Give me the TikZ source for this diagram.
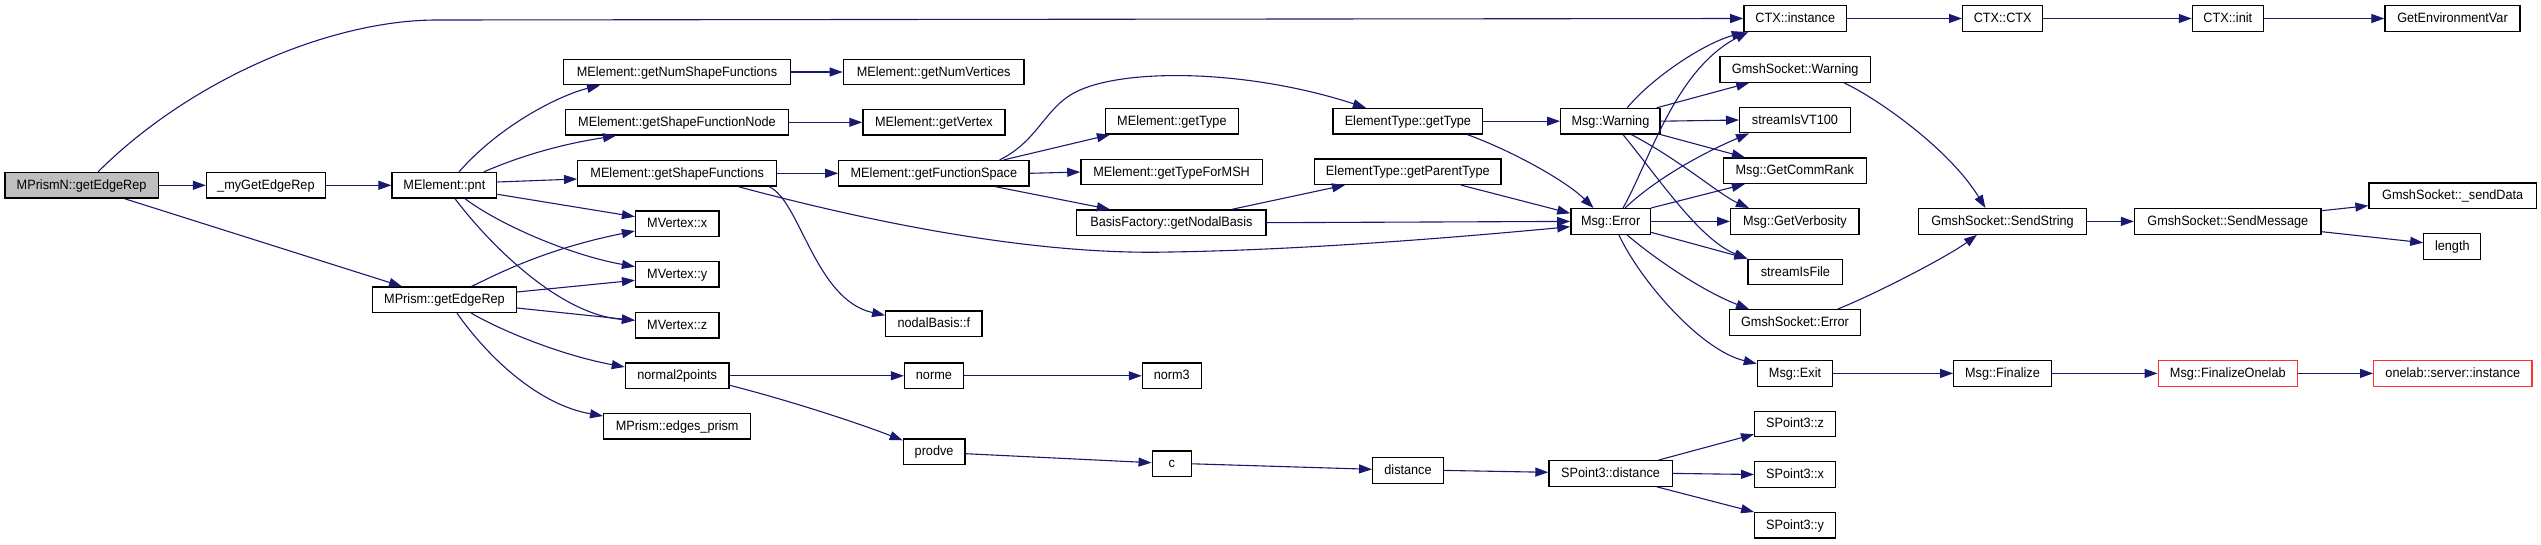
\documentclass[tikz,border=0pt]{standalone}
\usepackage{fontspec}
\setmainfont{Liberation Sans}[FakeStretch=0.94]
\usetikzlibrary{arrows.meta,calc}
\definecolor{edgec}{HTML}{191970}
\definecolor{rootfill}{HTML}{BFBFBF}
\definecolor{redb}{HTML}{FF3030}
\tikzset{
  fn/.style={draw=black, line width=1.3pt, fill=white, rectangle, inner sep=0pt,
    minimum height=25.5pt, text height=10pt, text depth=2pt,
    font=\fontsize{13.5}{15}\selectfont},
  rootn/.style={fn, fill=rootfill},
  redn/.style={fn, draw=redb},
  e/.style={draw=edgec, line width=1.1pt, -{Triangle[length=13pt,width=9pt]}},
}
\begin{document}
\begin{tikzpicture}[x=1pt,y=-1pt]
\useasboundingbox (0,0) rectangle (2541,544);
% nodes
\node[rootn, minimum width=153.5pt] (a) at (81.6,185.3) {MPrismN::getEdgeRep};
\node[fn, minimum width=118.8pt] (b) at (265.9,185.3) {\_myGetEdgeRep};
\node[fn, minimum width=104.7pt] (pnt) at (444.4,185.3) {MElement::pnt};
\node[fn, minimum width=227.3pt] (nsf) at (677,72) {MElement::getNumShapeFunctions};
\node[fn, minimum width=223.3pt] (sfn) at (677,122.3) {MElement::getShapeFunctionNode};
\node[fn, minimum width=199pt] (sf) at (677.2,173.3) {MElement::getShapeFunctions};
\node[fn, minimum width=83.3pt] (vx) at (677.2,223.8) {MVertex::x};
\node[fn, minimum width=83.3pt] (vy) at (677.2,274.3) {MVertex::y};
\node[fn, minimum width=83.3pt] (vz) at (677.2,325.2) {MVertex::z};
\node[fn, minimum width=103.7pt] (n2p) at (677.2,375.8) {normal2points};
\node[fn, minimum width=147pt] (ep) at (677.2,426.3) {MPrism::edges\_prism};
\node[fn, minimum width=143.6pt] (mpg) at (444.5,299.8) {MPrism::getEdgeRep};
\node[fn, minimum width=96.3pt] (nbf) at (933.9,323.8) {nodalBasis::f};
\node[fn, minimum width=58.8pt] (norme) at (933.9,375.8) {norme};
\node[fn, minimum width=58.8pt] (norm3) at (1171.8,375.8) {norm3};
\node[fn, minimum width=61.6pt] (prodve) at (934.1,451.8) {prodve};
\node[fn, minimum width=39.2pt] (cc) at (1171.8,463.8) {c};
\node[fn, minimum width=180.7pt] (nv) at (933.7,72) {MElement::getNumVertices};
\node[fn, minimum width=142pt] (gv) at (933.9,122.3) {MElement::getVertex};
\node[fn, minimum width=190.2pt] (fs) at (933.9,173.3) {MElement::getFunctionSpace};
\node[fn, minimum width=133.1pt] (met) at (1171.9,121.3) {MElement::getType};
\node[fn, minimum width=181.5pt] (msh) at (1171.6,172) {MElement::getTypeForMSH};
\node[fn, minimum width=189.3pt] (bf) at (1171.4,222.7) {BasisFactory::getNodalBasis};
\node[fn, minimum width=149.8pt] (ett) at (1407.9,121.2) {ElementType::getType};
\node[fn, minimum width=186.5pt] (etp) at (1407.8,171.7) {ElementType::getParentType};
\node[fn, minimum width=99.3pt] (mw) at (1610.4,121.2) {Msg::Warning};
\node[fn, minimum width=79.5pt] (merr) at (1610.6,221.4) {Msg::Error};
\node[fn, minimum width=102.7pt] (ctxi) at (1795.2,18.5) {CTX::instance};
\node[fn, minimum width=150.7pt] (gsw) at (1795.2,69.4) {GmshSocket::Warning};
\node[fn, minimum width=110.7pt] (vt) at (1795,120) {streamIsVT100};
\node[fn, minimum width=143.1pt] (cr) at (1794.8,170.7) {Msg::GetCommRank};
\node[fn, minimum width=128.4pt] (verb) at (1794.9,221.4) {Msg::GetVerbosity};
\node[fn, minimum width=94.7pt] (sif) at (1795.4,272) {streamIsFile};
\node[fn, minimum width=130.9pt] (gse) at (1795,322.5) {GmshSocket::Error};
\node[fn, minimum width=75.3pt] (mexit) at (1795,373.4) {Msg::Exit};
\node[fn, minimum width=70.7pt] (dist) at (1408,470.4) {distance};
\node[fn, minimum width=123.3pt] (spd) at (1610.6,473.4) {SPoint3::distance};
\node[fn, minimum width=80.8pt] (spz) at (1795.1,423.9) {SPoint3::z};
\node[fn, minimum width=80.8pt] (spx) at (1795.1,474.5) {SPoint3::x};
\node[fn, minimum width=80.8pt] (spy) at (1795.1,525.2) {SPoint3::y};
\node[fn, minimum width=80.1pt] (ctx) at (2002.7,18.5) {CTX::CTX};
\node[fn, minimum width=70.8pt] (init) at (2227.8,18.5) {CTX::init};
\node[fn, minimum width=135pt] (gev) at (2452.5,18.5) {GetEnvironmentVar};
\node[fn, minimum width=168.2pt] (ss) at (2002.5,221.4) {GmshSocket::SendString};
\node[fn, minimum width=186.4pt] (sm) at (2227.8,221.4) {GmshSocket::SendMessage};
\node[fn, minimum width=167.4pt] (sd) at (2452.7,195.7) {GmshSocket::\_sendData};
\node[fn, minimum width=57pt] (len) at (2452.3,246.4) {length};
\node[fn, minimum width=97.4pt] (fin) at (2002.5,373.4) {Msg::Finalize};
\node[redn, minimum width=139.2pt] (fo) at (2227.8,373.4) {Msg::FinalizeOnelab};
\node[redn, minimum width=158.1pt] (osi) at (2452.8,373.4) {onelab::server::instance};
% edges
\draw[e] ($(a.north)+(16.4,0)$) .. controls (190,80) and (330,20) .. (437,20) -- (ctxi.west);
\draw[e] (a.east) -- (b.west);
\draw[e] ($(a.south)+(43,0)$) -- ($(mpg.north)+(-42.5,0)$);
\draw[e] (b.east) -- (pnt.west);
\draw[e] ($(pnt.north)+(14.6,0)$) .. controls (500,125) and (560,95) .. ($(nsf.south)+(-77,0)$);
\draw[e] ($(pnt.north)+(39.3,0)$) .. controls (530,152) and (570,143) .. ($(sfn.south)+(-61,0)$);
\draw[e] ($(pnt.east)+(0,-3.3)$) -- ($(sf.west)+(0,5.7)$);
\draw[e] ($(pnt.east)+(0,9)$) -- ($(vx.west)+(0,-7.1)$);
\draw[e] ($(pnt.south)+(20.6,0)$) .. controls (500,225) and (570,255) .. ($(vy.west)+(0,-7.6)$);
\draw[e] ($(pnt.south)+(10.6,0)$) .. controls (490,245) and (560,315) .. ($(vz.west)+(0,-4.9)$);
\draw[e] (nsf.east) -- (nv.west);
\draw[e] (sfn.east) -- (gv.west);
\draw[e] (sf.east) -- (fs.west);
\draw[e] ($(sf.south)+(61.2,0)$) .. controls (900,230) and (1050,255) .. (1170,252) .. controls (1300,250) and (1450,238) .. ($(merr.west)+(0,5.3)$);
\draw[e] ($(sf.south)+(91.8,0)$) .. controls (800,200) and (815,300) .. ($(nbf.west)+(0,-8.5)$);
\draw[e] ($(mpg.north)+(26.9,0)$) .. controls (490,278) and (540,250) .. ($(vx.west)+(0,7.2)$);
\draw[e] ($(mpg.east)+(0,-7.8)$) -- ($(vy.west)+(0,6)$);
\draw[e] ($(mpg.east)+(0,8.2)$) -- ($(vz.west)+(0,-4.9)$);
\draw[e] ($(mpg.south)+(26.9,0)$) .. controls (500,330) and (560,355) .. ($(n2p.west)+(0,-8.8)$);
\draw[e] ($(mpg.south)+(12.5,0)$) .. controls (490,360) and (540,405) .. ($(ep.west)+(0,-10.3)$);
\draw[e] (n2p.east) -- (norme.west);
\draw[e] ($(n2p.east)+(0,9.5)$) .. controls (780,398) and (850,420) .. ($(prodve.west)+(0,-11.5)$);
\draw[e] (norme.east) -- (norm3.west);
\draw[e] ($(prodve.east)+(0,1.9)$) -- ($(cc.west)+(0,-1.1)$);
\draw[e] (cc.east) -- ($(dist.west)+(0,-1.1)$);
\draw[e] (dist.east) -- ($(spd.west)+(0,-1.1)$);
\draw[e] ($(spd.north)+(48.2,0)$) -- ($(spz.west)+(0,10.4)$);
\draw[e] (spd.east) -- (spx.west);
\draw[e] ($(spd.south)+(46.1,0)$) -- ($(spy.west)+(0,-13.2)$);
\draw[e] ($(fs.north)+(65.7,0)$) .. controls (1040,140) and (1045,105) .. (1080,90) .. controls (1130,68) and (1250,70) .. ($(ett.north)+(-42,0)$);
\draw[e] ($(fs.north)+(69.8,0)$) -- ($(met.south)+(-62,0)$);
\draw[e] (fs.east) -- (msh.west);
\draw[e] ($(fs.south)+(61.6,0)$) -- ($(bf.north)+(-61.6,0)$);
\draw[e] ($(bf.north)+(60.6,0)$) -- ($(etp.south)+(-62.8,0)$);
\draw[e] (bf.east) -- (merr.west);
\draw[e] (ett.east) -- (mw.west);
\draw[e] ($(ett.south)+(59.4,0)$) .. controls (1510,150) and (1565,180) .. ($(merr.north)+(-17.1,0)$);
\draw[e] ($(etp.south)+(53.2,0)$) -- ($(merr.west)+(0,-8.1)$);
\draw[e] ($(mw.north)+(16.8,0)$) .. controls (1650,80) and (1700,45) .. ($(ctxi.south west)+(1.5,0)$);
\draw[e] ($(mw.north)+(46.3,0)$) -- ($(gsw.south)+(-46,0)$);
\draw[e] (mw.east) -- (vt.west);
\draw[e] (mw.south east) -- ($(cr.north)+(-50,0)$);
\draw[e] ($(mw.south)+(21,0)$) .. controls (1680,160) and (1720,195) .. ($(verb.north)+(-46,0)$);
\draw[e] ($(mw.south)+(12.6,0)$) .. controls (1660,180) and (1700,240) .. (sif.north west);
\draw[e] ($(merr.north)+(12.4,0)$) .. controls (1650,160) and (1675,70) .. ($(ctxi.south west)+(5,0)$);
\draw[e] ($(merr.north)+(14.4,0)$) .. controls (1660,175) and (1710,150) .. ($(vt.south)+(-46,0)$);
\draw[e] (merr.north east) -- ($(cr.south)+(-50,0)$);
\draw[e] (merr.east) -- (verb.west);
\draw[e] ($(merr.east)+(0,10.9)$) -- (sif.north west);
\draw[e] ($(merr.south)+(16.4,0)$) .. controls (1650,255) and (1700,290) .. ($(gse.north)+(-46,0)$);
\draw[e] ($(merr.south)+(8.2,0)$) .. controls (1640,280) and (1700,350) .. ($(mexit.west)+(0,-9.7)$);
\draw[e] ($(gsw.south)+(48.8,0)$) .. controls (1880,100) and (1950,150) .. ($(ss.north)+(-17.1,0)$);
\draw[e] ($(gse.north)+(42.6,0)$) .. controls (1880,292) and (1950,255) .. ($(ss.south)+(-25.5,0)$);
\draw[e] (mexit.east) -- (fin.west);
\draw[e] (fin.east) -- (fo.west);
\draw[e] (fo.east) -- (osi.west);
\draw[e] (ctxi.east) -- (ctx.west);
\draw[e] (ctx.east) -- (init.west);
\draw[e] (init.east) -- (gev.west);
\draw[e] (ss.east) -- (sm.west);
\draw[e] ($(sm.east)+(0,-10.7)$) -- ($(sd.west)+(0,10)$);
\draw[e] ($(sm.east)+(0,10.3)$) -- ($(len.west)+(0,-3.7)$);
\end{tikzpicture}
\end{document}
